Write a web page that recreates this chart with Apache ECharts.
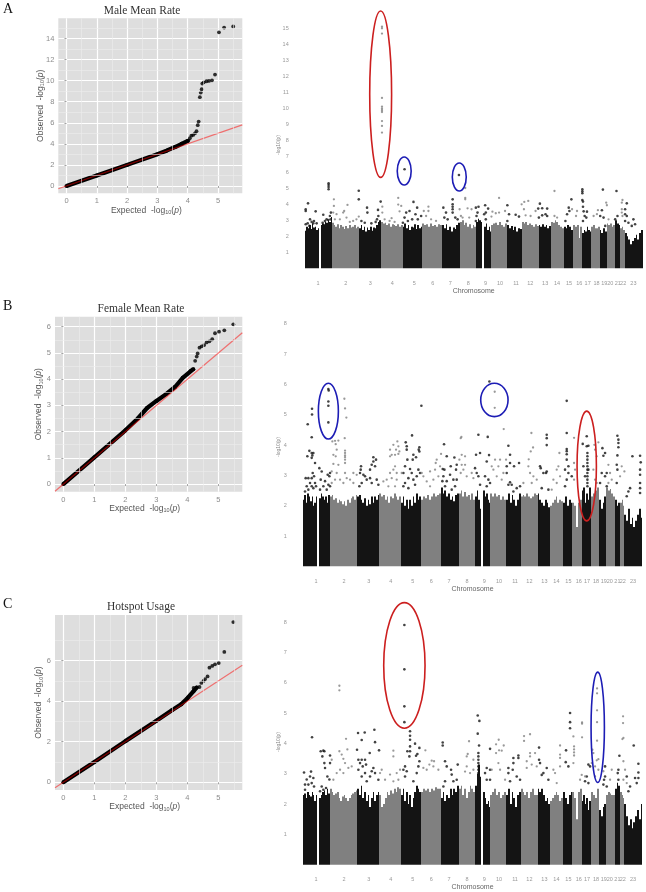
<!DOCTYPE html>
<html>
<head>
<meta charset="utf-8">
<script src="https://cdn.jsdelivr.net/npm/echarts@6/dist/echarts.min.js"></script>
<style>html,body{margin:0;padding:0;background:#fff}#chart{width:646px;height:892px;filter:blur(0.35px)}</style>
</head>
<body>
<div id="chart"></div>
<script>
// qq plots: dense part along the diagonal + separate tail points
var qqDenseA = [[0,0],[1,1],[2,2],[3,3.02],[3.3,3.35],[3.6,3.72],[3.8,4.0],[4.0,4.28]];
var qqTailA = [[5.5,15.15],[5.2,15.05],[5.03,14.6],[4.9,10.58],[4.8,10.04],[4.7,9.98],[4.62,9.95],[4.53,9.85],[4.48,9.73],[4.46,9.19],[4.43,8.87],[4.4,8.43],[4.36,6.12],[4.33,5.77],[4.29,5.2],[4.24,5.0],[4.18,4.85],[4.12,4.78],[4.07,4.53],[4.02,4.31]];
var qqDenseB = [[0,0],[1,1.02],[2,2.05],[2.4,2.5],[2.7,2.9],[3,3.17],[3.3,3.42],[3.6,3.7],[3.85,4.05],[4.1,4.3],[4.19,4.38]];
var qqTailB = [[5.48,6.09],[5.19,5.86],[5.02,5.81],[4.89,5.75],[4.8,5.52],[4.71,5.44],[4.62,5.4],[4.54,5.3],[4.46,5.25],[4.39,5.2],[4.33,4.98],[4.3,4.86],[4.25,4.7],[4.19,4.38]];
var qqDenseC = [[0,0],[1,1],[2,2.03],[3,3.03],[3.5,3.55],[3.8,3.85],[4,4.15],[4.2,4.5],[4.3,4.68]];
var qqTailC = [[5.48,7.9],[5.19,6.43],[5.01,5.88],[4.89,5.82],[4.8,5.74],[4.71,5.65],[4.65,5.22],[4.57,5.09],[4.52,5.0],[4.45,4.9],[4.39,4.7],[4.3,4.68],[4.2,4.65]];

// manhattan: chromosome segments (start,end) on a common position scale, 1 and 9 have a gap
var segStart = [0,49,82,164,230,295,355,414,468,517,542,563,610,654,705,742,781,809,837,864,889,910,936,952,965];
var segEnd = [44,82,164,230,295,355,414,468,517,535,563,610,654,705,742,781,809,837,864,889,910,936,952,965,1019];
var segDark = [1,1,0,1,0,1,0,1,0,1,1,0,1,0,1,0,1,0,1,0,1,0,1,0,1];
var chrLabels = ['1','2','3','4','5','6','7','8','9','10','11','12','13','14','15','16','17','18','19','20','21','22','23'];
var chrCenters = [40,124,198,264,330,386,439,493,545,589,637,680,725,761,797,828,853,880,903,921,944,960,991];

// top of the solid mass, per segment
var skyA = [
[2.35,2.6,2.5,2.7,2.45,2.8,2.55,2.6,2.4,2.5],[2.7,2.8,2.75,2.9,2.85,3.0,2.9,3.2],
[2.85,2.7,2.6,2.75,2.5,2.7,2.6,2.45,2.65,2.5,2.7,2.55,2.6,2.7,2.5,2.6],
[2.5,2.7,2.4,2.6,2.3,2.55,2.4,2.6,2.35,2.55,2.5,2.7,2.9,3.0],
[2.9,2.8,2.85,2.7,2.8,2.6,2.75,2.7,2.65,2.75,2.6,2.7],
[2.6,2.8,2.5,2.7,2.4,2.6,2.55,2.75,2.45,2.7,2.5,2.6],
[2.8,2.7,2.75,2.6,2.8,2.65,2.7,2.6,2.75,2.7],
[2.7,2.5,2.75,2.4,2.6,2.3,2.55,2.45,2.7,2.85],
[2.9,3.0,2.7,2.85,2.6,2.75,2.5,2.7,2.6],
[2.9,3.1,3.0,2.9],[2.6,2.8,2.4,2.6,2.3],
[2.7,2.8,2.85,2.7,2.9,2.7,2.6,2.8],
[2.7,2.5,2.65,2.4,2.6,2.3,2.5,2.45],
[2.9,2.8,2.9,2.7,2.8,2.7,2.6,2.75,2.65],
[2.7,2.6,2.75,2.6,2.7,2.5,2.65],
[2.9,2.85,3.0,2.9,2.7,2.6,2.5],
[2.6,2.5,2.7,2.6,2.4],[2.7,2.6,2.7,1.9,2.6],
[2.2,2.4,2.3,2.6,2.4,2.3],[2.6,2.7,2.5,2.6],[2.4,2.2,2.5,2.3],
[2.8,2.7,2.8,2.6,2.7],[3.0,2.8,2.7],[2.5,2.6,2.4],
[2.2,2.0,1.8,1.5,1.7,1.9,2.1,1.8,2.2,2.4]];
var skyB = [
[2.2,2.35,2.1,2.4,2.3,2.15,2.3,2.0,2.1,2.3],[2.25,2.4,2.3,2.2,2.3,2.1,2.35],
[2.3,2.35,2.2,2.25,2.1,2.2,2.15,2.05,2.15,2.0,2.2,2.1,2.25,2.3,2.2,2.35],
[2.3,2.35,2.2,2.1,2.25,2.0,2.2,2.05,2.3,2.1,2.3,2.2,2.35],
[2.4,2.3,2.35,2.2,2.3,2.1,2.3,2.25,2.4,2.3,2.2,2.3],
[2.1,2.3,2.0,2.2,1.9,2.2,2.0,2.3,2.1,2.4,2.2,2.3],
[2.2,2.3,2.25,2.35,2.2,2.3,2.4,2.3,2.35,2.4],
[2.6,2.4,2.5,2.3,2.4,2.2,2.3,2.15,2.35,2.4],
[2.4,2.5,2.3,2.45,2.3,2.35,2.2,2.4,2.2],
[2.3,2.5,2.2,1.9],[2.5,2.3,2.4,2.2,2.1],
[2.4,2.3,2.4,2.3,2.35,2.2,2.3,2.2],
[2.2,2.4,2.1,2.35,2.2,2.0,2.2,2.4],
[2.3,2.35,2.3,2.4,2.3,2.25,2.3,2.4,2.35],
[2.4,2.2,2.1,2.0,2.2,2.1,1.95],
[2.0,2.1,2.2,2.3,2.1,2.2,2.15],
[2.1,2.3,2.0,2.2,2.1],[2.1,2.0,1.3,2.1,2.2],
[2.5,2.6,2.1,2.4,2.2,2.6],[2.3,2.4,2.5,2.6],[2.2,1.9,2.1,2.3],
[2.6,2.5,2.55,2.4,2.3],[2.2,2.0,2.1],[2.1,2.2,2.0],
[1.7,1.5,1.9,1.4,1.6,1.3,1.5,1.7,1.9,1.6]];
var skyC = [
[2.3,2.35,2.2,2.4,2.3,2.25,2.4,2.3,2.1,2.3],[2.2,2.3,2.4,2.45,2.3,2.5,2.35],
[2.5,2.4,2.3,2.35,2.4,2.2,2.1,2.25,2.3,2.2,2.1,2.2,2.3,2.35,2.4,2.45],
[2.5,2.3,2.6,2.2,2.4,2.1,2.3,1.9,2.2,2.4,2.1,2.3,2.4],
[2.3,1.9,2.0,2.2,2.4,2.3,2.45,2.35,2.5,2.4,2.55,2.5],
[2.3,2.5,2.1,2.4,2.0,2.3,1.9,2.2,2.4,2.6,2.5,2.4],
[2.4,2.5,2.45,2.5,2.4,2.5,2.45,2.55,2.5,2.5],
[2.2,2.4,2.1,2.3,2.2,2.5,2.3,2.5,2.4,2.6],
[2.5,2.6,2.3,2.5,2.2,2.4,2.6,2.5,2.4],
[2.6,3.0,3.3,2.9],[2.4,2.2,2.0,2.1,1.9],
[2.3,2.4,2.5,2.3,2.4,2.2,2.3,2.4],
[2.3,2.5,2.0,2.4,2.2,1.9,2.3,2.4],
[2.5,2.4,2.3,2.4,2.2,2.4,2.5,2.3,2.3],
[2.5,2.4,2.5,2.3,2.1,2.2,2.0],
[2.1,2.2,2.3,2.4,2.3,2.1,2.2],
[2.4,2.2,2.0,2.3,2.4],[2.4,2.2,1.5,2.4,2.5],
[2.1,2.3,2.0,2.2,1.8,2.1],[2.4,2.3,2.2,2.5],[1.8,1.6,1.9,2.0],
[2.3,2.4,2.35,2.3,2.3],[2.5,2.7,2.6],[2.4,2.3,2.2],
[2.0,1.6,1.3,1.5,1.2,1.4,1.6,1.8,1.5,2.0]];

// single snps above the mass
var blackA = [[3,3.58],[3,3.69],[10,4.06],[33,3.56],[3,2.75],[16,3.06],[21,2.9],[28,2.96],[9,2.81],[36,2.81],[14,2.65],[26,2.81],
[72,5.31],[72,5.21],[72,5.08],[72,4.94],[56,3.35],[79,3.48],[66,3.06],[76,3.27],[78,3.06],[61,2.96],[71,3.02],[54,2.85],[163,4.85],[163,4.31],
[188,3.79],[189,3.48],[229,4.17],[221,3.65],[222,3.27],[218,3.06],[214,2.9],[171,2.96],[181,2.85],[201,2.81],
[301,6.19],[328,4.15],[339,3.79],[316,3.58],[306,3.48],[334,3.38],[351,3.27],[301,3.17],[341,3.06],[311,2.96],[324,3.06],[296,2.85],
[446,4.31],[446,4.0],[446,3.85],[446,3.69],[446,3.48],[418,3.79],[426,3.48],[461,3.06],[421,3.17],[431,3.06],[454,3.17],[465,5.83],
[516,3.79],[524,3.85],[521,3.48],[518,3.27],[516,2.96],[544,3.94],[553,3.73],[546,3.48],[541,3.38],[546,3.06],
[611,3.94],[616,3.38],[636,3.35],[646,3.23],[611,2.96],[709,4.04],[704,3.73],[716,3.75],[731,3.73],[716,3.31],[726,3.38],[706,3.17],[731,3.27],
[804,4.31],[796,3.79],[791,3.38],[798,3.58],[786,2.96],[837,4.94],[837,4.81],[837,4.69],[837,4.27],[839,4.17],[839,3.85],[841,3.56],[851,3.54],[844,3.27],[849,3.17],[839,2.96],
[899,4.92],[896,3.63],[891,3.27],[901,3.17],[906,2.65],[940,4.83],[943,3.27],[936,3.06],
[971,4.06],[966,3.69],[966,3.38],[971,3.27],[991,3.06],[966,2.96],[996,2.75],[976,2.85],[986,2.65]];
var grayA = [[88,4.31],[88,3.9],[129,3.96],[119,3.58],[116,3.48],[86,3.48],[96,3.38],[163,3.23],[106,3.06],[126,3.17],[146,2.96],[91,3.06],[136,2.9],[156,3.06],
[233,15.1],[233,15.0],[233,14.67],[233,10.65],[233,10.1],[233,9.98],[233,9.88],[233,9.77],[233,9.2],[233,8.9],[233,8.48],
[234,3.85],[234,3.48],[282,4.4],[282,3.98],[291,3.9],[286,3.56],[262,3.13],[241,3.06],[256,2.96],[271,2.9],
[373,3.85],[373,3.58],[359,3.58],[366,3.27],[381,3.06],[396,2.96],
[484,5.02],[484,4.4],[484,4.31],[467,3.69],[503,3.69],[491,3.75],[471,3.27],[476,3.17],[496,3.17],
[586,4.4],[566,3.54],[576,3.44],[586,3.48],[563,3.23],[604,3.58],[654,4.0],[662,4.15],[674,4.21],[661,3.69],[696,3.58],[666,3.31],[681,3.27],
[753,4.83],[753,3.27],[761,3.17],[806,3.69],[821,3.58],[818,3.27],[884,3.63],[871,3.27],[881,3.38],
[909,4.1],[911,3.94],[916,3.06],[958,4.27],[956,4.1],[956,3.69],[958,3.27],[956,3.48]];
var blackB = [[28,5.2],[28,5.01],[15,4.69],[27,4.26],[20,3.81],[27,3.74],[32,3.74],[14,3.63],[29,3.66],[27,3.58],[37,3.41],[30,3.08],[9,2.91],[17,2.91],[27,2.91],[34,2.97],[37,2.75],[12,2.64],[22,2.75],[27,2.64],[7,2.47],[17,2.53],[32,2.58],[40,2.64],
[77,5.85],[78,5.8],[77,5.44],[77,5.3],[77,4.75],[50,3.24],[57,3.13],[82,3.08],[75,3.02],[80,2.97],[54,2.86],[67,2.81],[62,2.64],[77,2.69],[52,2.53],[72,2.53],[82,2.64],
[175,3.3],[174,3.19],[172,3.08],[182,3.02],[212,3.6],[212,3.46],[220,3.52],[207,3.35],[202,3.19],[217,3.3],[192,2.86],[177,2.75],[187,2.97],[202,2.91],[222,2.86],[207,2.75],[227,2.69],[170,2.64],
[356,5.3],[328,4.32],[309,4.09],[312,3.96],[312,3.85],[350,3.93],[348,3.85],[350,3.79],[332,3.68],[340,3.6],[330,3.52],[314,3.52],[307,3.3],[322,3.21],[302,3.08],[327,3.08],[347,3.19],[332,2.86],[317,2.91],[342,2.97],[352,3.08],[307,2.75],[302,2.64],[337,2.69],[317,2.58],
[424,4.03],[432,3.63],[455,3.59],[420,3.21],[425,3.19],[444,3.3],[462,3.35],[460,3.19],[422,2.97],[442,3.02],[452,2.86],[432,2.81],[462,2.86],[419,2.81],[427,2.64],[457,2.64],[447,2.53],
[527,4.34],[532,3.74],[520,3.68],[555,4.27],[559,3.67],[552,3.46],[517,3.24],[527,2.97],[522,3.08],[532,2.69],[547,2.97],[557,2.86],[562,2.75],[552,2.64],[560,6.1],
[617,3.98],[622,3.68],[649,3.41],[622,3.41],[634,3.3],[612,3.3],[612,3.08],[622,2.77],[617,2.69],[627,2.69],[652,2.64],[642,2.58],[632,2.47],
[732,4.34],[732,4.23],[732,4],[712,3.3],[714,3.24],[732,3.13],[722,3.08],[730,3.08],[717,2.58],[737,2.53],
[792,5.46],[792,4.4],[792,3.87],[792,3.8],[792,3.7],[792,3.52],[797,3.3],[787,3.19],[797,3.08],[807,2.97],[792,2.86],[787,2.64],
[852,4.29],[840,4.04],[852,3.96],[857,3.98],[854,3.74],[854,3.63],[854,3.52],[854,3.41],[854,3.3],[854,3.19],[854,3.08],[854,2.97],[854,2.86],[854,2.75],[854,2.64],[842,3.3],[847,2.97],[857,3.19],
[899,3.9],[907,3.74],[902,3.65],[912,3.08],[897,3.08],[907,2.97],[892,2.75],[912,2.64],[944,4.31],[947,4.18],[947,4.07],[947,3.93],[944,3.66],[942,3.35],[944,3.19],[942,2.75],
[989,3.63],[1012,3.65],[1014,3.43],[1012,3.19],[1012,3.02],[1012,2.75],[1012,2.58],[1012,2.42],[982,2.58],[977,2.47],[972,2.31]];
var grayB = [[125,5.53],[127,5.21],[131,4.91],[126,4.23],[107,4.15],[97,4.14],[89,4.12],[99,4.03],[102,3.85],[127,3.82],[127,3.74],[127,3.66],[127,3.6],[127,3.52],[92,3.68],[99,3.63],[92,3.38],[107,3.35],[127,3.41],[127,3.08],[87,3.13],[152,3.08],[162,3.02],[102,3.08],[112,2.86],[132,2.91],[142,2.86],[97,2.86],[122,2.75],[152,2.75],[87,2.75],
[284,4.12],[272,4.01],[287,3.96],[262,3.85],[280,3.85],[290,3.79],[267,3.68],[277,3.68],[262,3.63],[287,3.71],[277,3.3],[272,3.19],[262,3.08],[282,3.08],[297,3.08],[267,2.91],[242,2.8],[252,2.86],[282,2.86],[277,2.64],[257,2.64],
[357,3.08],[362,2.97],[402,3.52],[399,3.41],[397,3.19],[382,3.13],[412,3.3],[392,2.86],[372,2.8],[407,2.97],[382,2.64],[415,3.71],
[476,4.27],[474,4.23],[477,3.68],[487,3.63],[470,3.52],[477,3.35],[487,3.35],[474,3.08],[482,3.19],[492,2.97],[507,3.08],[512,2.91],
[576,5.76],[576,5.23],[603,4.53],[592,3.52],[577,3.52],[567,3.3],[572,3.19],[587,3.3],[602,3.08],[582,2.97],[597,2.86],[610,3.52],
[686,4.4],[691,3.92],[684,3.79],[678,3.53],[682,3.08],[677,3.3],[692,2.97],[702,2.86],[662,2.75],[687,2.75],
[770,3.74],[767,3.3],[762,3.19],[772,2.97],[752,2.86],[762,2.75],[747,2.53],[814,4.24],[814,3.41],[817,3.19],[814,2.86],
[875,4.01],[887,4.09],[877,3.85],[882,3.63],[872,3.19],[877,2.86],[882,2.75],[917,3.35],[922,3.08],[927,2.86],[917,2.75],[957,3.3],[965,3.13],[952,2.97]];
var blackC = [[28,4.2],[4,3.04],[25,3.07],[22,2.91],[12,2.81],[32,2.86],[27,2.69],[7,2.64],[17,2.64],[34,2.58],[7,2.47],
[54,3.74],[62,3.76],[65,3.74],[82,3.6],[59,3.57],[65,3.35],[67,3.19],[82,3.35],[74,2.91],[57,2.58],[70,2.53],[80,2.81],[52,2.42],[62,2.47],
[166,4.34],[186,4.36],[215,4.45],[177,4.11],[163,3.79],[217,4.04],[229,3.77],[201,3.68],[167,3.46],[177,3.46],[187,3.46],[172,3.35],[190,3.3],[180,3.24],[167,3.13],[187,3.02],[212,3.19],[207,3.08],[202,2.91],[217,3.02],[177,2.91],[227,2.8],[192,2.75],
[322,4.4],[322,4.25],[322,4.12],[322,3.9],[337,3.99],[350,3.85],[314,3.74],[344,3.65],[340,3.59],[322,3.74],[320,3.57],[350,3.41],[347,3.24],[307,3.24],[302,3.13],[312,3.08],[307,2.91],[342,3.02],[332,2.75],
[305,7.9],[305,6.44],[305,5.22],[305,4.7],
[420,4.03],[420,3.93],[427,3.41],[432,3.24],[465,3.3],[445,3.13],[447,2.97],[427,2.75],[452,2.75],[422,2.58],[462,2.8],
[525,4.92],[530,4.74],[525,4.32],[529,3.93],[527,3.68],[527,3.57],[527,3.46],[527,3.35],[527,3.24],[527,3.13],[527,3.02],[562,3.82],[552,3.19],[547,3.02],[562,3.13],[562,2.8],[552,2.8],
[632,3.52],[647,3.6],[647,3.52],[632,3.35],[617,3.19],[630,3.13],[617,3.02],[642,2.91],[622,2.75],[652,2.8],
[709,3.86],[709,3.46],[712,3.35],[722,3.02],[732,3.19],[717,2.96],[737,2.8],[802,5.0],[802,4.7],[802,4.5],[790,3.77],[789,3.38],[797,3.24],
[857,3.3],[862,3.24],[852,2.91],[847,2.75],[857,2.69],[907,3.24],[907,2.91],[904,2.8],[902,2.64],[912,2.58],[950,3.59],[947,3.13],[945,3.02],[947,2.8],
[993,3.93],[1007,3.33],[1007,3.04],[997,2.86],[1007,2.86],[1002,2.69],[972,2.91],[982,2.58],[977,2.42]];
var grayC = [[110,5.9],[110,5.75],[130,4.15],[134,3.8],[110,3.74],[117,3.63],[122,3.49],[87,3.46],[127,3.35],[112,3.13],[102,3.02],[122,3.02],[92,2.8],[147,3.24],[137,3.19],
[272,3.76],[272,3.57],[237,3.13],[232,3.02],[262,2.97],[282,3.02],[292,3.13],[247,2.8],[272,2.75],[287,2.8],
[368,3.77],[387,3.43],[394,3.41],[380,3.3],[392,3.24],[362,3.19],[372,3.13],[407,3.13],
[499,4.07],[495,3.65],[492,3.57],[512,3.46],[492,3.24],[487,3.07],[502,3.02],[512,3.13],
[588,4.12],[580,3.97],[603,3.93],[589,3.77],[597,3.76],[580,3.68],[587,3.35],[567,3.13],[592,3.13],[607,2.8],
[664,4.24],[664,4.08],[682,4.3],[682,3.68],[682,3.57],[697,3.68],[672,3.41],[687,3.3],[672,3.19],[702,3.24],
[772,3.93],[772,3.63],[772,3.52],[772,3.24],[752,3.13],[757,3.02],[762,2.69],[812,4.23],[814,3.9],[814,3.8],[814,3.7],[814,3.6],[812,3.35],
[838,4.69],[838,4.65],[838,4.2],[837,2.96],[832,2.8],[847,2.91],
[883,5.81],[883,5.65],[883,5.09],[883,4.7],[883,4.09],[887,3.48],[882,3.44],[869,3.79],[872,3.68],[867,3.35],[877,3.24],[887,3.13],[902,3.08],[877,2.91],
[927,3.13],[922,2.8],[961,4.89],[961,4.67],[959,4.14],[962,4.18],[962,3.41],[967,3.13],[972,2.69],[962,2.8]];

// rings drawn by hand on the figure: centre x, centre y, radius x, radius y
var redRings = {A: [[229,10.88,33,5.2]], B: [[852,3.31,29,1.81]], C: [[305,6.57,62,2.07]]};
var blueRings = {A: [[300,6.08,21,0.875],[466,5.71,21,0.875]], B: [[77,5.12,30,0.92],[575,5.49,41,0.55]], C: [[885,4.53,20,1.82]]};

var titles = ['Male Mean Rate','Female Mean Rate','Hotspot Usage'];
var letters = ['A','B','C'];

var chart = echarts.init(document.getElementById('chart'));
var sans = '"Liberation Sans", Arial, sans-serif';
var serif = '"Liberation Serif", serif';
var nameRich = {
  s: {fontSize: 5.5, fontFamily: sans, color: '#555', verticalAlign: 'bottom', padding: [4,0,0,0]},
  i: {fontSize: 8.5, fontFamily: sans, fontStyle: 'italic', color: '#555'}
};

var grid = [], xAxis = [], yAxis = [], series = [], title = [], graphic = [];

function addQQ(o) {
  var i = grid.length;
  grid.push({left: o.left, top: o.top, width: o.width, height: o.height, show: true, backgroundColor: '#dedede', borderWidth: 0});
  var label = {color: '#8c8c8c', fontSize: 7.5, fontFamily: sans, margin: 4};
  var tick = {show: true, length: 2, lineStyle: {color: '#8c8c8c', width: 0.8}};
  xAxis.push({gridIndex: i, type: 'value', min: o.xMin, max: o.xMax,
    axisLine: {show: false},
    axisTick: Object.assign({customValues: o.xTicks}, tick),
    axisLabel: Object.assign({customValues: o.xTicks}, label),
    splitLine: {show: true, lineStyle: {color: '#fff', width: 1.2}},
    name: 'Expected  -log{s|10}({i|p})', nameLocation: 'middle', nameGap: 12, nameMoveOverlap: false,
    nameTextStyle: {fontFamily: sans, fontSize: 8.5, color: '#555', rich: nameRich, padding: [0, 8, 0, 0]}});
  yAxis.push({gridIndex: i, type: 'value', min: o.yMin, max: o.yMax,
    axisLine: {show: false},
    axisTick: Object.assign({customValues: o.yTicks}, tick),
    axisLabel: Object.assign({customValues: o.yTicks}, label),
    splitLine: {show: true, lineStyle: {color: '#fff', width: 1.2}},
    name: 'Observed  -log{s|10}({i|p})', nameLocation: 'middle', nameGap: o.nameGap, nameMoveOverlap: false,
    nameTextStyle: {fontFamily: sans, fontSize: 8.5, color: '#555', rich: nameRich}});
  var minorLines = o.xMinor.map(function (v) { return {xAxis: v}; })
    .concat(o.yMinor.map(function (v) { return {yAxis: v}; }));
  series.push({type: 'line', xAxisIndex: i, yAxisIndex: i, data: [], silent: true, z: 1,
    markLine: {silent: true, symbol: 'none', animation: false, label: {show: false},
      lineStyle: {color: '#ececec', width: 0.6, type: 'solid'}, data: minorLines}});
  series.push({type: 'line', xAxisIndex: i, yAxisIndex: i, data: o.dense, showSymbol: true, symbol: 'circle',
    symbolSize: 4, itemStyle: {color: '#000'}, lineStyle: {color: '#000', width: 4.2}, z: 3, silent: true});
  series.push({type: 'scatter', xAxisIndex: i, yAxisIndex: i, data: o.tail, symbolSize: 3.8, itemStyle: {color: '#000'}, z: 3, silent: true});
  // y = x reference line
  var lo = Math.max(o.xMin, o.yMin), hi = Math.min(o.xMax, o.yMax);
  series.push({type: 'line', xAxisIndex: i, yAxisIndex: i, data: [[lo, lo], [hi, hi]], showSymbol: false,
    lineStyle: {color: '#f00', width: 1.2, opacity: 0.5}, z: 4, silent: true});
  title.push({text: o.title, left: o.titleX, top: o.titleY, textAlign: 'center', padding: 0,
    textStyle: {fontFamily: serif, fontSize: 11.5, fontWeight: 'normal', color: '#333'}});
  title.push({text: o.letter, left: 3, top: o.letterY, padding: 0,
    textStyle: {fontFamily: serif, fontSize: 14, fontWeight: 'normal', color: '#111'}});
}

// one [start, end, height] per skyline bin of the wanted colour
function skyline(sky, dark) {
  var out = [];
  sky.forEach(function (bins, s) {
    if (segDark[s] !== dark) return;
    var w = (segEnd[s] - segStart[s]) / bins.length;
    bins.forEach(function (v, b) {
      out.push([segStart[s] + b * w, segStart[s] + (b + 1) * w, v]);
    });
  });
  return out;
}

function skySeries(i, data, color) {
  return {type: 'custom', xAxisIndex: i, yAxisIndex: i, data: data, z: 2, silent: true, encode: {x: [0, 1], y: 2},
    renderItem: function (params, api) {
      var a = api.coord([api.value(0), api.value(2)]);
      var b = api.coord([api.value(1), 0]);
      // snap to whole pixels so neighbouring bins leave no seam
      var x0 = Math.round(a[0]), x1 = Math.round(b[0]);
      return {type: 'rect', shape: {x: x0, y: a[1], width: x1 - x0, height: b[1] - a[1]},
        style: {fill: color}};
    }};
}

function ringSeries(i, data, color) {
  return {type: 'custom', xAxisIndex: i, yAxisIndex: i, data: data, z: 6, silent: true, clip: false,
    renderItem: function (params, api) {
      var c = api.coord([api.value(0), api.value(1)]);
      var s = api.size([api.value(2), api.value(3)]);
      return {type: 'ellipse', shape: {cx: c[0], cy: c[1], rx: s[0], ry: s[1]},
        style: {fill: 'none', stroke: color, lineWidth: 1.6}};
    }};
}

function addManhattan(o) {
  var i = grid.length;
  grid.push({left: o.left, top: o.top, width: o.width, height: o.height, show: false});
  xAxis.push({gridIndex: i, type: 'value', min: 0, max: 1019,
    axisLine: {show: false}, axisTick: {show: false}, splitLine: {show: false},
    axisLabel: {customValues: chrCenters, color: '#999', fontSize: 5.5, fontFamily: sans, margin: o.labelGap,
      formatter: function (v) { return chrLabels[chrCenters.indexOf(v)]; }},
    name: 'Chromosome', nameLocation: 'middle', nameGap: o.nameGap,
    nameTextStyle: {fontFamily: sans, fontSize: 7, color: '#666'}});
  yAxis.push({gridIndex: i, type: 'value', min: 0, max: o.yMax,
    axisLine: {show: false}, axisTick: {show: false}, splitLine: {show: false},
    axisLabel: {customValues: o.yTicks, color: '#999', fontSize: 5.5, fontFamily: sans, margin: o.yLabelGap}});
  [[1, '#141414', o.black, 2.6], [0, '#808080', o.gray, 2.3]].forEach(function (p) {
    series.push(skySeries(i, skyline(o.sky, p[0]), p[1]));
    series.push({type: 'scatter', xAxisIndex: i, yAxisIndex: i, data: p[2], symbolSize: p[3],
      itemStyle: {color: p[1]}, silent: true, z: 3});
  });
  series.push(ringSeries(i, o.red, '#cc1f1f'));
  series.push(ringSeries(i, o.blue, '#1d1db5'));
  graphic.push({type: 'text', x: 279, y: o.nameY, rotation: Math.PI / 2, silent: true,
    style: {text: '-log10(p)', fontFamily: sans, fontSize: 5, fill: '#888', textAlign: 'center', textVerticalAlign: 'middle'}});
}

addQQ({left: 58.3, top: 18.3, width: 184, height: 175, xMin: -0.27, xMax: 5.8, yMin: -0.7, yMax: 15.93,
  xTicks: [0,1,2,3,4,5], yTicks: [0,2,4,6,8,10,12,14],
  xMinor: [0.5,1.5,2.5,3.5,4.5,5.5], yMinor: [1,3,5,7,9,11,13,15],
  dense: qqDenseA, tail: qqTailA, title: titles[0], titleX: 142, titleY: 5, letter: letters[0], letterY: 2, nameGap: 13});
addManhattan({left: 304.7, top: 12.3, width: 338, height: 256, yMax: 16, yTicks: [1,2,3,4,5,6,7,8,9,10,11,12,13,14,15],
  sky: skyA, black: blackA, gray: grayA, red: redRings.A, blue: blueRings.A, labelGap: 12, nameGap: 19, yLabelGap: 16, nameY: 145});

addQQ({left: 55, top: 316.7, width: 187.3, height: 175, xMin: -0.27, xMax: 5.77, yMin: -0.29, yMax: 6.38,
  xTicks: [0,1,2,3,4,5], yTicks: [0,1,2,3,4,5,6],
  xMinor: [0.5,1.5,2.5,3.5,4.5,5.5], yMinor: [0.5,1.5,2.5,3.5,4.5,5.5],
  dense: qqDenseB, tail: qqTailB, title: titles[1], titleX: 141, titleY: 303, letter: letters[1], letterY: 299, nameGap: 11});
addManhattan({left: 302.7, top: 293.6, width: 339.7, height: 272.7, yMax: 9, yTicks: [1,2,3,4,5,6,7,8],
  sky: skyB, black: blackB, gray: grayB, red: redRings.B, blue: blueRings.B, labelGap: 12, nameGap: 18, yLabelGap: 16, nameY: 447});

addQQ({left: 55, top: 615, width: 187.3, height: 175, xMin: -0.27, xMax: 5.77, yMin: -0.38, yMax: 8.25,
  xTicks: [0,1,2,3,4,5], yTicks: [0,2,4,6],
  xMinor: [0.5,1.5,2.5,3.5,4.5,5.5], yMinor: [1,3,5,7],
  dense: qqDenseC, tail: qqTailC, title: titles[2], titleX: 141, titleY: 601, letter: letters[2], letterY: 597, nameGap: 11});
addManhattan({left: 302.7, top: 591.7, width: 339.7, height: 273, yMax: 9, yTicks: [1,2,3,4,5,6,7,8],
  sky: skyC, black: blackC, gray: grayC, red: redRings.C, blue: blueRings.C, labelGap: 12, nameGap: 18, yLabelGap: 16, nameY: 742});

chart.setOption({
  animation: false,
  backgroundColor: '#fff',
  title: title, grid: grid, xAxis: xAxis, yAxis: yAxis, series: series, graphic: graphic
});
</script>
</body>
</html>
